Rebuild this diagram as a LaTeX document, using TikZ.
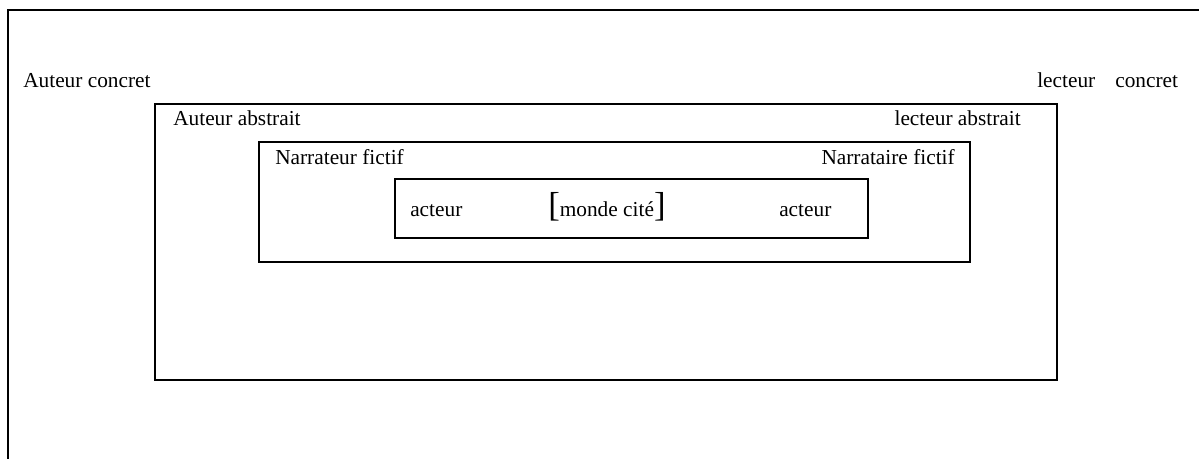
\documentclass[tikz,border=0pt]{standalone}
\usepackage{fontspec}
\setmainfont{Liberation Serif}
\usetikzlibrary{positioning}
\newcommand{\bigbrk}[1]{{\fontsize{26}{26}\selectfont#1}}

\begin{document}
\begin{tikzpicture}[
  x=0.75pt, y=-0.75pt,
  frame/.style={draw, line width=1.5pt},
  lbl/.style={inner sep=0pt, font=\fontsize{16}{19}\selectfont},
]
\useasboundingbox (0,0) rectangle (1199,459);

% outer frame: top and left sides only
\coordinate (tl) at (8,10);
\draw[frame] (1199,10) -- (tl) -- (8,459);

% nested frames
\draw[frame] (155,104) rectangle (1057,380);
\draw[frame] (259,142) rectangle (970,262);
\draw[frame] (395,179) rectangle (868,238);

% labels
\node[lbl, anchor=base west] (ac) at (23,88) {Auteur concret};
\node[lbl, anchor=base west] (lc) at (1037,88) {lecteur\hspace{15pt}concret};
\node[lbl, anchor=base west] (aa) at (173,126) {Auteur abstrait};
\node[lbl, anchor=base east] (la) at (1021,126) {lecteur abstrait};
\node[lbl, anchor=base west] (nf) at (275,165) {Narrateur fictif};
\node[lbl, anchor=base east] (naf) at (955,165) {Narrataire fictif};
\node[lbl, anchor=base west] (act1) at (410,217) {acteur};
\node[lbl, anchor=base west] (mc) at (548,217) {\bigbrk{[}monde cité\bigbrk{]}};
\node[lbl, anchor=base west] (act2) at (779,217) {acteur};
\end{tikzpicture}
\end{document}
